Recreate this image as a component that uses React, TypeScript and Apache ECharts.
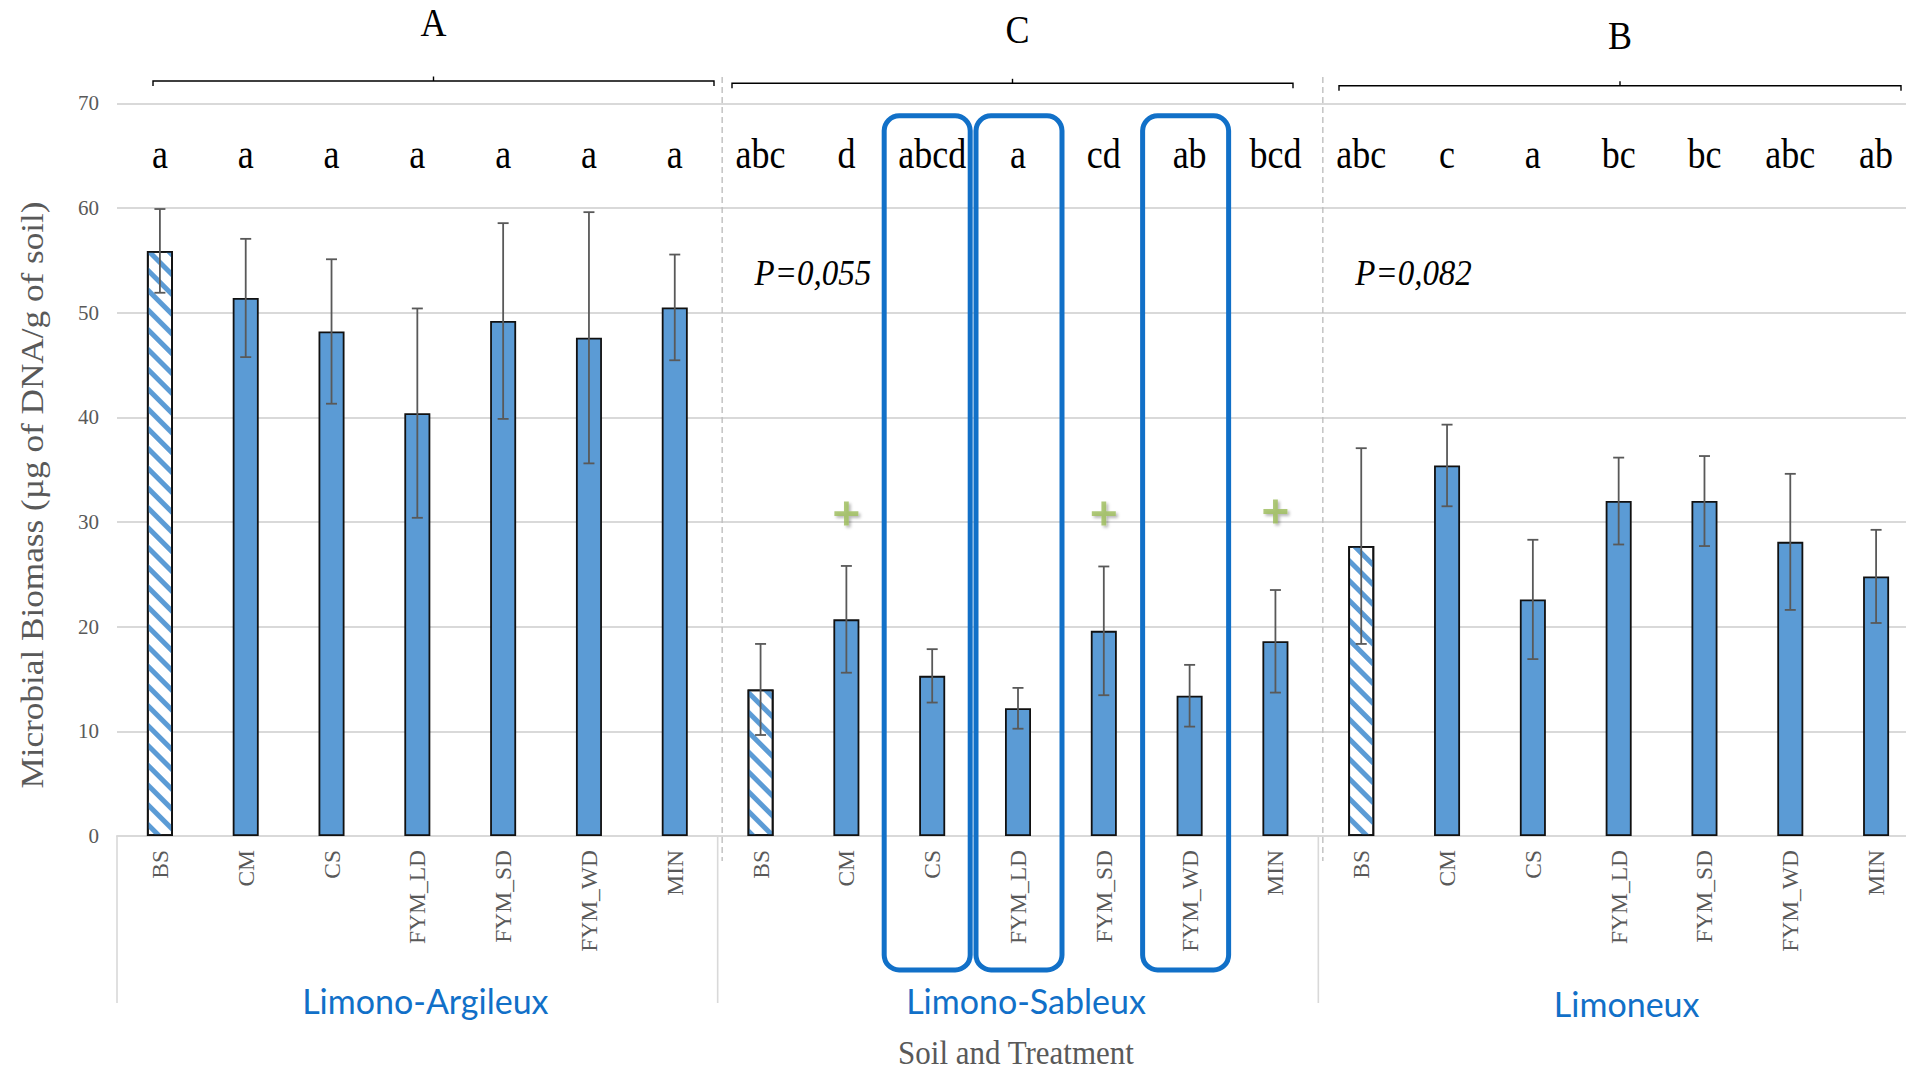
import React, { useEffect, useRef } from 'react';
import * as echarts from 'echarts';

// ---------- data ----------
const treatments = ['BS', 'CM', 'CS', 'FYM_LD', 'FYM_SD', 'FYM_WD', 'MIN'];
const soils = ['Limono-Argileux', 'Limono-Sableux', 'Limoneux'];

const meanLA = [55.9, 51.4, 48.2, 40.4, 49.2, 47.6, 50.5];
const meanLS = [14.0, 20.7, 15.3, 12.2, 19.6, 13.4, 18.6];
const meanLM = [27.7, 35.4, 22.6, 32.0, 32.0, 28.1, 24.8];

const errLA = [4.0, 5.65, 6.9, 10.0, 9.35, 12.0, 5.05];
const errLS = [4.35, 5.1, 2.55, 1.95, 6.15, 2.95, 4.9];
const errLM = [9.35, 3.9, 5.7, 4.15, 4.3, 6.5, 4.45];

const lettersLA = ['a', 'a', 'a', 'a', 'a', 'a', 'a'];
const lettersLS = ['abc', 'd', 'abcd', 'a', 'cd', 'ab', 'bcd'];
const lettersLM = ['abc', 'c', 'a', 'bc', 'bc', 'abc', 'ab'];

const soilGroupLetters = ['A', 'C', 'B'];
const soilPValues = ['', 'P=0,055', 'P=0,082'];

const plusSoil = 'Limono-Sableux';
const plusTreatments = ['CM', 'FYM_SD', 'MIN'];
const plusValues = [30.8, 30.8, 31.0];

const highlightSoil = 'Limono-Sableux';
const highlightTreatments = ['CS', 'FYM_LD', 'FYM_WD'];

const yMin = 0;
const yMax = 70;
const yInterval = 10;

const yTitle = 'Microbial Biomass (µg of DNA/g of soil)';
const xTitle = 'Soil and Treatment';

// ---------- derived ----------
const keys: string[] = [];
soils.forEach((s) => treatments.forEach((t) => keys.push(s + '|' + t)));
const means = [...meanLA, ...meanLS, ...meanLM];
const errs = [...errLA, ...errLS, ...errLM];
const letters = [...lettersLA, ...lettersLS, ...lettersLM];

const SERIF = '"Liberation Serif", "Times New Roman", serif';
const BLUE = '#5B9BD5';
const GREY_TXT = '#595959';

export default function App() {
  const ref = useRef<HTMLDivElement>(null);

  useEffect(() => {
    document.body.style.margin = '0';
    document.body.style.overflow = 'hidden';
    document.documentElement.style.overflow = 'hidden';
    const chart = echarts.init(ref.current!, null, { renderer: 'svg' });

    const hatchStyle = {
      color: '#FFFFFF',
      borderColor: '#111111',
      borderWidth: 1.8,
      decal: {
        symbol: 'rect',
        symbolSize: 1,
        dashArrayX: [1, 0],
        dashArrayY: [5, 9],
        rotation: Math.PI / 4,
        color: BLUE,
        backgroundColor: '#FFFFFF',
      },
    };

    const barData = keys.map((k, i) => {
      const t = k.split('|')[1];
      if (t === 'BS') return { value: means[i], itemStyle: hatchStyle };
      return { value: means[i] };
    });

    const option: any = {
      animation: false,
      backgroundColor: '#FFFFFF',
      grid: { left: 117, top: 103.3, bottom: 237, width: 1802, containLabel: false },
      xAxis: {
        type: 'category',
        data: keys,
        axisLine: { show: true, lineStyle: { color: '#D9D9D9', width: 2 } },
        axisTick: { show: false },
        splitLine: { show: false },
        axisLabel: {
          interval: 0,
          rotate: 90,
          margin: 14,
          color: GREY_TXT,
          fontFamily: SERIF,
          fontSize: 23.5,
          formatter: (v: string) => v.split('|')[1],
        },
      },
      yAxis: {
        type: 'value',
        min: yMin,
        max: yMax,
        interval: yInterval,
        axisLine: { show: false },
        axisTick: { show: false },
        splitLine: { show: true, lineStyle: { color: '#D9D9D9', width: 2 } },
        axisLabel: { color: GREY_TXT, fontFamily: SERIF, fontSize: 21, margin: 18 },
      },
      series: [
        {
          type: 'bar',
          data: barData,
          barWidth: 26,
          itemStyle: { color: BLUE, borderColor: '#111111', borderWidth: 1.8 },
          z: 2,
        },
        {
          type: 'custom',
          data: keys.map((k, i) => [i, means[i] - errs[i], means[i] + errs[i]]),
          encode: { x: 0, y: [1, 2] },
          z: 5,
          renderItem: (params: any, api: any) => {
            const x = api.value(0);
            const lo = api.coord([x, api.value(1)]);
            const hi = api.coord([x, api.value(2)]);
            const hw = 5.5;
            const style = { stroke: '#595959', lineWidth: 1.8 };
            return {
              type: 'group',
              children: [
                { type: 'line', shape: { x1: lo[0], y1: lo[1], x2: hi[0], y2: hi[1] }, style },
                { type: 'line', shape: { x1: lo[0] - hw, y1: lo[1], x2: lo[0] + hw, y2: lo[1] }, style },
                { type: 'line', shape: { x1: hi[0] - hw, y1: hi[1], x2: hi[0] + hw, y2: hi[1] }, style },
              ],
            };
          },
        },
        {
          type: 'scatter',
          data: plusTreatments.map((t, i) => [plusSoil + '|' + t, plusValues[i]]),
          symbol: 'path://M4,0H6V4H10V6H6V10H4V6H0V4H4Z',
          symbolSize: 24,
          itemStyle: {
            color: '#9BBB59',
            shadowColor: 'rgba(0,0,0,0.35)',
            shadowBlur: 3,
            shadowOffsetX: 2,
            shadowOffsetY: 2,
          },
          z: 6,
        },
      ],
    };

    chart.setOption(option);

    const P = (c: number, v: number) => chart.convertToPixel({ gridIndex: 0 }, [c, v]) as number[];
    const base = P(0, 0)[1];
    const bandW = P(1, 0)[0] - P(0, 0)[0];
    const n = treatments.length;

    const els: any[] = [];
    const txt = (text: string, x: number, y: number, font: string, fill: string, extra: any = {}, align = 'center') => ({
      type: 'text',
      x,
      y,
      z: 50,
      ...extra,
      style: {
        text,
        font,
        fill,
        align,
        verticalAlign: 'middle',
        textAlign: align,
        textVerticalAlign: 'middle',
      },
    });

    // significance letters above each bar
    letters.forEach((l, i) => {
      const p = P(i, 65.2);
      els.push(txt(l, p[0], p[1], '36px ' + SERIF, '#000000', { scaleY: 1.2 }));
    });

    // brackets and soil group letters
    const brackets = [
      [153, 714, 81, 22.5],
      [732, 1293, 83.3, 29.2],
      [1339, 1901, 85.7, 35.8],
    ];
    brackets.forEach((b, g) => {
      const [x1, x2, y, ly] = b;
      const xc = (x1 + x2) / 2;
      els.push({
        type: 'polyline',
        z: 50,
        shape: { points: [[x1, y + 5], [x1, y], [x2, y], [x2, y + 5]] },
        style: { stroke: '#000000', lineWidth: 1.4, fill: null },
      });
      els.push({
        type: 'line',
        z: 50,
        shape: { x1: xc, y1: y, x2: xc, y2: y - 4.5 },
        style: { stroke: '#000000', lineWidth: 1.4 },
      });
      els.push(txt(soilGroupLetters[g], xc + (g === 1 ? 5 : 0), ly, '36px ' + SERIF, '#000000', { scaleY: 1.1 }));
    });

    // P values
    soilPValues.forEach((pv, g) => {
      if (!pv) return;
      const p = P(g * n, 53.8);
      els.push(txt(pv, p[0] - 6, p[1], 'italic 33px ' + SERIF, '#000000', { scaleY: 1.1 }, 'left'));
    });

    // group separators (below axis) and dashed separators (in plot)
    for (let g = 0; g < soils.length; g++) {
      const xEdge = P(g * n, 0)[0] - bandW / 2;
      els.push({
        type: 'line',
        z: 40,
        shape: { x1: xEdge, y1: base, x2: xEdge, y2: base + 167 },
        style: { stroke: '#D9D9D9', lineWidth: 1.6 },
      });
      if (g > 0) {
        els.push({
          type: 'line',
          z: 40,
          shape: { x1: xEdge + 4.5, y1: 77, x2: xEdge + 4.5, y2: base + 25 },
          style: { stroke: '#BFBFBF', lineWidth: 1.4, lineDash: [6, 4] },
        });
      }
      const xc = (P(g * n, 0)[0] + P(g * n + n - 1, 0)[0]) / 2;
      els.push(txt(soils[g], xc + 8, base + (g === 2 ? 167 : 164), '34px Lato, "Open Sans", sans-serif', '#1170C8'));
    }

    // highlight boxes
    const boxOffsets = [-5, 1, -4];
    highlightTreatments.forEach((t, j) => {
      const idx = keys.indexOf(highlightSoil + '|' + t);
      const xc = P(idx, 0)[0] + boxOffsets[j];
      const top = P(idx, 68.8)[1];
      const w = 86;
      els.push({
        type: 'rect',
        z: 60,
        shape: { x: xc - w / 2, y: top, width: w, height: base + 134 - top, r: 15 },
        style: { fill: null, stroke: '#1170C8', lineWidth: 5 },
      });
    });

    // axis titles
    els.push(txt(xTitle, 1016, 1052, '31px ' + SERIF, GREY_TXT, { scaleY: 1.1 }));
    els.push(txt(yTitle, 32, 495, '32px ' + SERIF, GREY_TXT, { rotation: Math.PI / 2, scaleX: 1.1 }));

    chart.setOption({ graphic: els });

    return () => chart.dispose();
  }, []);

  return (
    <div
      ref={ref}
      style={{ position: 'absolute', left: 0, top: 0, width: 1925, height: 1073, background: '#FFFFFF' }}
    />
  );
}
